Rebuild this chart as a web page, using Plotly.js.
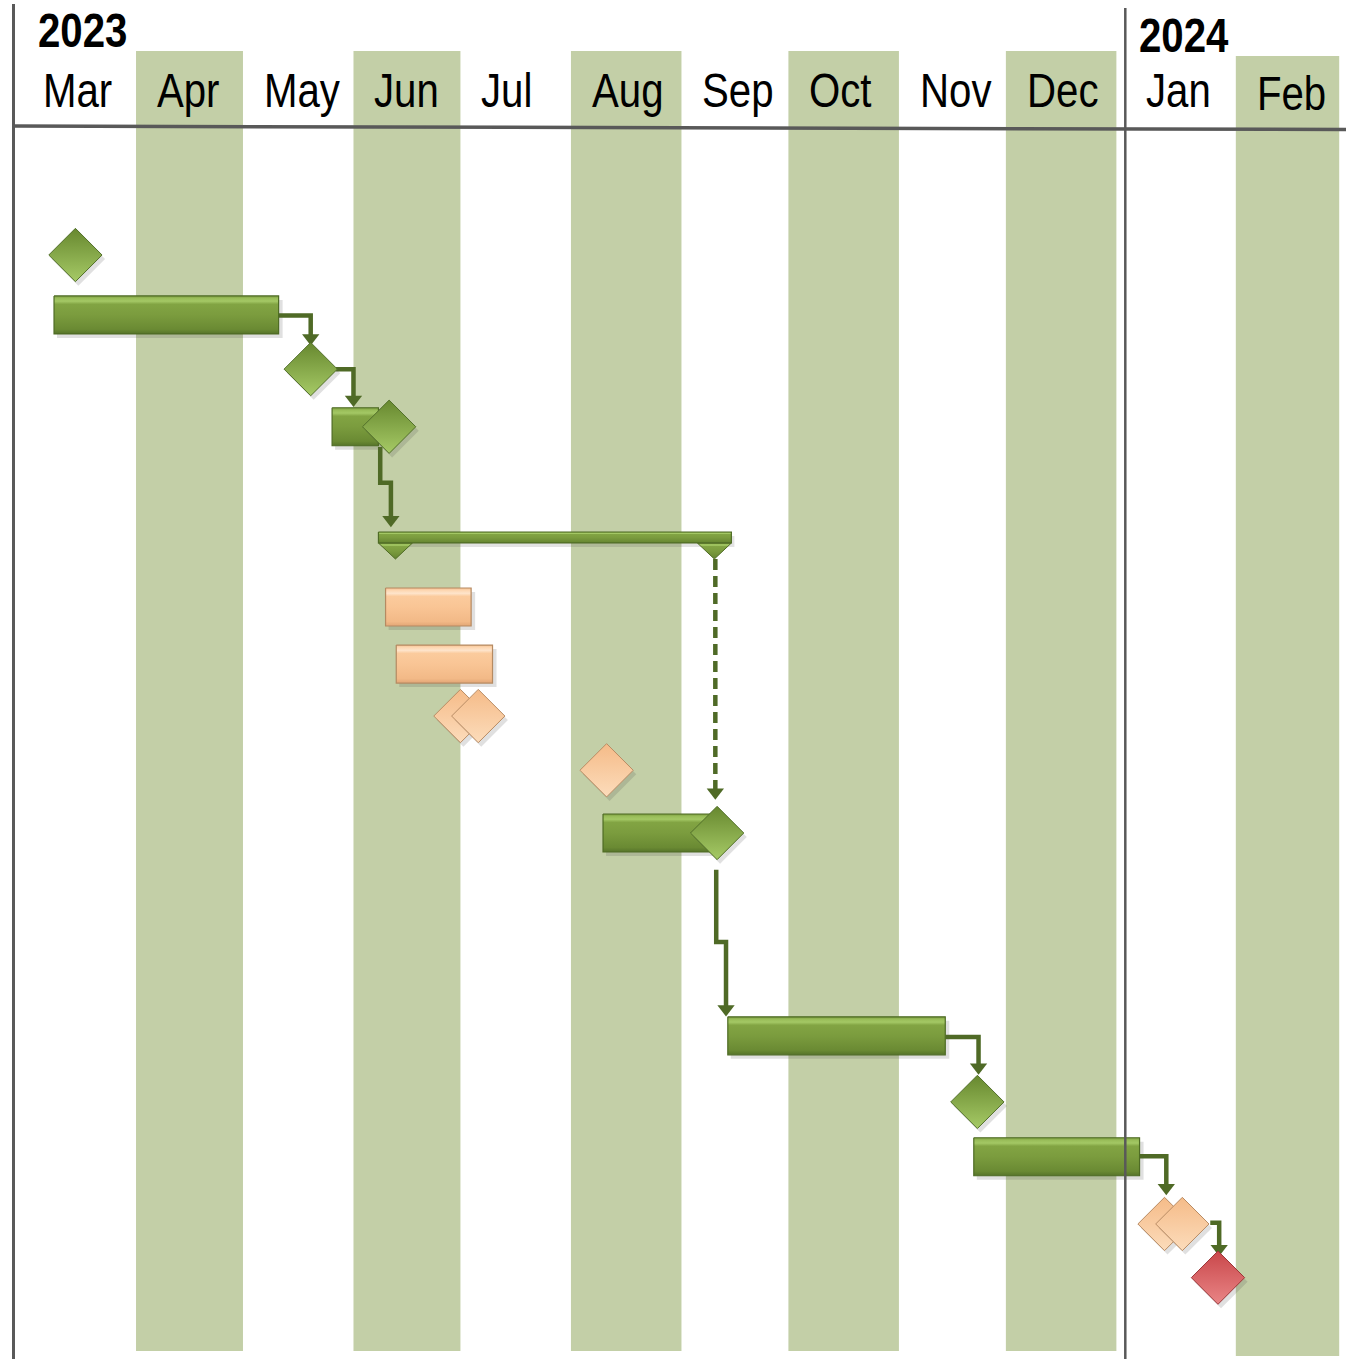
<!DOCTYPE html>
<html><head><meta charset="utf-8">
<script src="https://cdn.plot.ly/plotly-3.0.1.min.js"></script>
<style>html,body{margin:0;padding:0;background:#fff}#chart{width:1352px;height:1359px}</style>
</head><body><div id="chart"></div>
<script>
// ---------------- DATA ----------------
const monthLabels = ['Mar','Apr','May','Jun','Jul','Aug','Sep','Oct','Nov','Dec','Jan','Feb'];
const monthStarts = ['2023-03-01','2023-04-01','2023-05-01','2023-06-01','2023-07-01','2023-08-01',
                     '2023-09-01','2023-10-01','2023-11-01','2023-12-01','2024-01-01','2024-02-01'];
const monthDays   = [31,30,31,30,31,31,30,31,30,31,31,29];
const shadedMonths = ['Apr','Jun','Aug','Oct','Dec','Feb'];
const yearLabels = ['2023','2024'];
const yearStarts = ['2023-03-01','2024-01-01'];

// task bars
const barStart = ['2023-03-09','2023-05-26','2023-06-10','2023-06-13','2023-08-10','2023-09-14','2023-11-22'];
const barEnd   = ['2023-05-11','2023-06-08','2023-07-04','2023-07-10','2023-09-09','2023-11-14','2024-01-05'];
const barLane  = [2.06, 4.04, 7.23, 8.24, 11.23, 14.82, 16.96];
const barKind  = ['green','green','peach','peach','green','green','green'];

// summary bar
const summaryStart = '2023-06-08';
const summaryEnd   = '2023-09-15';
const summaryLane  = 6.00;

// milestones
const msDate = ['2023-03-15','2023-05-20','2023-06-11','2023-07-01','2023-07-06','2023-08-11',
                '2023-09-11','2023-11-23','2024-01-12','2024-01-17','2024-01-27'];
const msLane = [1.00, 3.02, 4.04, 9.16, 9.16, 10.12, 11.23, 15.99, 18.15, 18.15, 19.10];
const msKind = ['green','green','green','peach','peach','peach','green','green','peach','peach','red'];

// dependency links: waypoints [date, lane]; last point = arrow tip
const linkPath = [
  [['2023-05-11',2.07],['2023-05-20',2.07],['2023-05-20',2.60]],
  [['2023-05-27',3.02],['2023-06-01',3.02],['2023-06-01',3.69]],
  [['2023-06-08 12:00',4.40],['2023-06-08 12:00',5.03],['2023-06-11 12:00',5.03],['2023-06-11 12:00',5.82]],
  [['2023-09-10 12:00',6.38],['2023-09-10 12:00',10.64]],
  [['2023-09-10 18:00',11.88],['2023-09-10 18:00',13.16],['2023-09-13 12:00',13.16],['2023-09-13 12:00',14.48]],
  [['2023-11-14',14.84],['2023-11-23 08:00',14.84],['2023-11-23 08:00',15.51]],
  [['2024-01-05',16.95],['2024-01-12 12:00',16.95],['2024-01-12 12:00',17.64]],
  [['2024-01-24 20:00',18.13],['2024-01-27 08:00',18.13],['2024-01-27 08:00',18.72]]
];
const linkDashed = [false,false,false,true,false,false,false,false];

// ---------------- SCALES ----------------
const W = 1352, H = 1359;
const X0PX = 25.5, KX = 3.565, GAP = 2.5;   // px of Mar 1, px per day, gap at year change (days)
const L0PX = 198.5, KY = 56.5;               // px of lane 0, px per lane
const dayOf = s => (Date.parse(s.replace(' ','T') + (s.length > 10 ? ':00Z' : 'T00:00:00Z')) - Date.UTC(2023,2,1)) / 86400000;
const toX = s => { const d = dayOf(s); return d >= 306 ? d + GAP : d; };
const dx = p => p / KX;          // px -> days
const dl = p => p / KY;          // px -> lanes
const py = p => 1 - p / H;       // px -> paper y
const xRange = [-X0PX / KX, (W - X0PX) / KX];
const yRange = [(H - L0PX) / KY, -L0PX / KY];

const palette = {
  green: {edge:'#4e6b24', scale:[[0,'#56742a'],[0.12,'#6a8a33'],[0.5,'#7b9c3e'],[0.78,'#82a443'],[0.86,'#a4c865'],[0.94,'#98bc58'],[1,'#7a9a3d']],
          ms:'#67882f', msGrad:'#a6ca66', msLine:'#52702a'},
  peach: {edge:'#b58a62', scale:[[0,'#e2a676'],[0.12,'#f2b987'],[0.5,'#f9c595'],[0.78,'#fbcb9d'],[0.86,'#fee4cb'],[0.94,'#fdd6b0'],[1,'#f6c192']],
          ms:'#f5bb88', msGrad:'#fcdcbb', msLine:'#b98c64'},
  red:   {edge:'#9b3537', scale:[[0,'#b03c3e'],[0.5,'#cf5254'],[1,'#e48081']],
          ms:'#c9474a', msGrad:'#e98586', msLine:'#9c3638'}
};

const traces = [];
const H2 = dl(19);   // bar half height

// bar shadows
barStart.forEach((s, i) => {
  const x0 = toX(s) + dx(3), x1 = toX(barEnd[i]) + dx(4), l = barLane[i] + dl(4);
  traces.push({type:'scatter', mode:'lines', x:[x0,x1,x1,x0,x0], y:[l-H2,l-H2,l+H2,l+H2,l-H2],
    fill:'toself', fillcolor:'rgba(60,60,60,0.16)', line:{width:0}, hoverinfo:'skip'});
});
// summary shadow
(() => {
  const s = toX(summaryStart) + dx(3), e = toX(summaryEnd) + dx(3), l = summaryLane + dl(4), h = dl(5.5);
  traces.push({type:'scatter', mode:'lines', x:[s,e,e,s,s], y:[l-h,l-h,l+h,l+h,l-h],
    fill:'toself', fillcolor:'rgba(60,60,60,0.14)', line:{width:0}, hoverinfo:'skip'});
})();

// links (under the shapes)
linkPath.forEach((path, i) => {
  const xs = path.map(p => toX(p[0])), ys = path.map(p => p[1]);
  const last = path.length - 1;
  const tipY = ys[last];
  ys[last] = tipY - dl(8);
  traces.push({type:'scatter', mode:'lines', x:xs, y:ys,
    line:{color:'#4f6a26', width:4.5, dash: linkDashed[i] ? '11px,6px' : 'solid'}, hoverinfo:'skip'});
  traces.push({type:'scatter', mode:'markers', x:[xs[last]], y:[tipY - dl(7.5)],
    marker:{symbol:'triangle-down', size:15, color:'#4f6a26', line:{width:0}}, hoverinfo:'skip'});
});

// bars
barStart.forEach((s, i) => {
  const x0 = toX(s), x1 = toX(barEnd[i]), l = barLane[i], p = palette[barKind[i]];
  traces.push({type:'scatter', mode:'lines', x:[x0,x1,x1,x0,x0], y:[l-H2,l-H2,l+H2,l+H2,l-H2],
    fill:'toself', fillgradient:{type:'vertical', colorscale:p.scale, start:l+H2, stop:l-H2},
    line:{color:p.edge, width:1.2}, hoverinfo:'skip'});
});

// summary bar with end triangles
(() => {
  const s = toX(summaryStart), e = toX(summaryEnd), l = summaryLane, h = dl(5.5), p = palette.green;
  const tw = dx(34), th = dl(16);
  const tri = (a) => ({type:'scatter', mode:'lines', x:[a, a+tw, a+tw/2, a], y:[l+h, l+h, l+h+th, l+h],
    fill:'toself', fillgradient:{type:'vertical', colorscale:p.scale, start:l+h+th, stop:l+h},
    line:{color:p.edge, width:1}, hoverinfo:'skip'});
  traces.push(tri(s));
  traces.push(tri(e - tw));
  traces.push({type:'scatter', mode:'lines', x:[s,e,e,s,s], y:[l-h,l-h,l+h,l+h,l-h],
    fill:'toself', fillgradient:{type:'vertical', colorscale:p.scale, start:l+h, stop:l-h},
    line:{color:p.edge, width:1.2}, hoverinfo:'skip'});
})();

// milestones (shadow + diamond), one at a time to keep overlap order
msDate.forEach((d, i) => {
  const p = palette[msKind[i]];
  traces.push({type:'scatter', mode:'markers', x:[toX(d) + dx(3)], y:[msLane[i] + dl(4)],
    marker:{symbol:'diamond', size:41, color:'rgba(60,60,60,0.16)', line:{width:0}}, hoverinfo:'skip'});
  traces.push({type:'scatter', mode:'markers', x:[toX(d)], y:[msLane[i]],
    marker:{symbol:'diamond', size:41, color:p.ms, gradient:{type:'vertical', color:p.msGrad},
            line:{color:p.msLine, width:1}}, hoverinfo:'skip'});
});

// ---------------- LAYOUT ----------------
const shapes = [];
monthLabels.forEach((m, i) => {
  if (!shadedMonths.includes(m)) return;
  const x0 = toX(monthStarts[i]), x1 = x0 + monthDays[i];
  const shift = (m === 'Feb') ? 5 : 0;
  shapes.push({type:'rect', layer:'below', xref:'x', yref:'paper', x0, x1, y0:py(1351 + shift), y1:py(51 + shift),
    fillcolor:'#c3cfa7', line:{width:0}});
});
// frame lines
shapes.push({type:'line', xref:'paper', yref:'paper', x0:13.5/W, x1:13.5/W, y0:py(4), y1:py(H), line:{color:'#595959', width:3}});
shapes.push({type:'line', xref:'x', yref:'paper', x0:toX(yearStarts[1]), x1:toX(yearStarts[1]), y0:py(8), y1:py(H), line:{color:'#595959', width:2.5}});
shapes.push({type:'line', xref:'paper', yref:'paper', x0:13/W, x1:1346/W, y0:py(126), y1:py(129.5), line:{color:'#595959', width:3.5}});

const FONT = "'Liberation Sans Narrow', 'Arial Narrow', 'Liberation Sans', Arial, sans-serif";
const annotations = [];
monthLabels.forEach((m, i) => {
  const shift = (m === 'Feb') ? 3 : 0;
  annotations.push({text:m, xref:'x', yref:'paper', x:toX(monthStarts[i]), xshift:(i === 0 ? 15 : 19), y:py(90 + shift),
    xanchor:'left', align:'left', yanchor:'middle', showarrow:false, font:{family:FONT, size:49, color:'#000'}});
});
const yearY = [29.5, 35.5], yearShift = [10.5, 11.7];
yearLabels.forEach((yl, i) => {
  annotations.push({text:'<b>'+yl+'</b>', xref:'x', yref:'paper', x:toX(yearStarts[i]), xshift:yearShift[i], y:py(yearY[i]),
    xanchor:'left', align:'left', yanchor:'middle', showarrow:false, font:{family:FONT, size:49, color:'#000'}});
});

const layout = {
  width:W, height:H, margin:{l:0, r:0, t:0, b:0},
  paper_bgcolor:'#fff', plot_bgcolor:'#fff', showlegend:false,
  xaxis:{range:xRange, visible:false, fixedrange:true},
  yaxis:{range:yRange, visible:false, fixedrange:true},
  shapes, annotations, hovermode:false
};
Plotly.newPlot('chart', traces, layout, {staticPlot:true, displayModeBar:false}).then(gd => {
  // narrow the header text to match a condensed (Arial Narrow-like) face
  gd.querySelectorAll('text.annotation-text').forEach(t => {
    const w = t.getComputedTextLength();
    t.setAttribute('textLength', (w * 0.82).toFixed(1));
    t.setAttribute('lengthAdjust', 'spacingAndGlyphs');
  });
});
</script>
</body></html>
